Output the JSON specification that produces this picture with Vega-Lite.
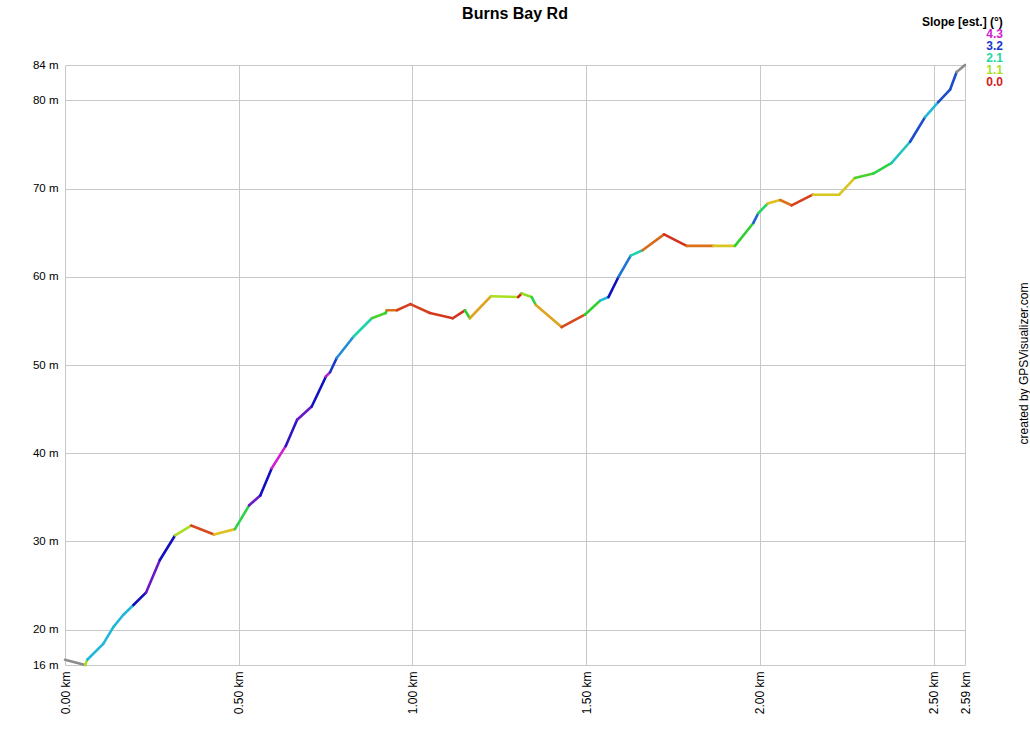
{
  "$schema": "https://vega.github.io/schema/vega-lite/v6.json",
  "autosize": "none",
  "width": 900,
  "height": 600,
  "padding": {"left": 65, "top": 65, "right": 65, "bottom": 65},
  "background": "#ffffff",
  "config": {
    "view": {"stroke": null},
    "font": "Liberation Sans"
  },
  "title": {
    "text": "Burns Bay Rd",
    "font": "Liberation Sans",
    "fontSize": 16,
    "fontWeight": "bold",
    "color": "#000000",
    "anchor": "middle",
    "baseline": "alphabetic",
    "offset": -18
  },
  "data": {
    "values": [
      {"d": 0.000, "e": 16.6, "d2": 0.058, "e2": 16.0, "s": 0, "g": 1},
      {"d": 0.058, "e": 16.0, "d2": 0.064, "e2": 16.6, "s": 1.1, "g": 0},
      {"d": 0.064, "e": 16.6, "d2": 0.110, "e2": 18.4, "s": 2.6, "g": 0},
      {"d": 0.110, "e": 18.4, "d2": 0.139, "e2": 20.3, "s": 2.6, "g": 0},
      {"d": 0.139, "e": 20.3, "d2": 0.168, "e2": 21.7, "s": 2.6, "g": 0},
      {"d": 0.168, "e": 21.7, "d2": 0.197, "e2": 22.8, "s": 2.6, "g": 0},
      {"d": 0.197, "e": 22.8, "d2": 0.233, "e2": 24.2, "s": 3.4, "g": 0},
      {"d": 0.233, "e": 24.2, "d2": 0.273, "e2": 27.9, "s": 3.9, "g": 0},
      {"d": 0.273, "e": 27.9, "d2": 0.317, "e2": 30.7, "s": 3.4, "g": 0},
      {"d": 0.317, "e": 30.7, "d2": 0.363, "e2": 31.8, "s": 1.1, "g": 0},
      {"d": 0.363, "e": 31.8, "d2": 0.429, "e2": 30.8, "s": 0.25, "g": 0},
      {"d": 0.429, "e": 30.8, "d2": 0.489, "e2": 31.4, "s": 0.8, "g": 0},
      {"d": 0.489, "e": 31.4, "d2": 0.530, "e2": 34.1, "s": 1.7, "g": 0},
      {"d": 0.530, "e": 34.1, "d2": 0.562, "e2": 35.2, "s": 3.9, "g": 0},
      {"d": 0.562, "e": 35.2, "d2": 0.595, "e2": 38.3, "s": 3.4, "g": 0},
      {"d": 0.595, "e": 38.3, "d2": 0.635, "e2": 40.8, "s": 4.3, "g": 0},
      {"d": 0.635, "e": 40.8, "d2": 0.668, "e2": 43.8, "s": 3.6, "g": 0},
      {"d": 0.668, "e": 43.8, "d2": 0.710, "e2": 45.3, "s": 3.9, "g": 0},
      {"d": 0.710, "e": 45.3, "d2": 0.751, "e2": 48.7, "s": 3.4, "g": 0},
      {"d": 0.751, "e": 48.7, "d2": 0.763, "e2": 49.2, "s": 4.2, "g": 0},
      {"d": 0.763, "e": 49.2, "d2": 0.782, "e2": 50.8, "s": 3.2, "g": 0},
      {"d": 0.782, "e": 50.8, "d2": 0.830, "e2": 53.2, "s": 2.8, "g": 0},
      {"d": 0.830, "e": 53.2, "d2": 0.883, "e2": 55.3, "s": 2.2, "g": 0},
      {"d": 0.883, "e": 55.3, "d2": 0.923, "e2": 55.9, "s": 1.5, "g": 0},
      {"d": 0.923, "e": 55.9, "d2": 0.926, "e2": 56.2, "s": 1.6, "g": 0},
      {"d": 0.926, "e": 56.2, "d2": 0.955, "e2": 56.2, "s": 0.5, "g": 0},
      {"d": 0.955, "e": 56.2, "d2": 0.994, "e2": 56.9, "s": 0.2, "g": 0},
      {"d": 0.994, "e": 56.9, "d2": 1.050, "e2": 55.9, "s": 0.2, "g": 0},
      {"d": 1.050, "e": 55.9, "d2": 1.116, "e2": 55.3, "s": 0.15, "g": 0},
      {"d": 1.116, "e": 55.3, "d2": 1.151, "e2": 56.2, "s": 0.1, "g": 0},
      {"d": 1.151, "e": 56.2, "d2": 1.165, "e2": 55.3, "s": 1.6, "g": 0},
      {"d": 1.165, "e": 55.3, "d2": 1.226, "e2": 57.8, "s": 0.7, "g": 0},
      {"d": 1.226, "e": 57.8, "d2": 1.304, "e2": 57.7, "s": 1.1, "g": 0},
      {"d": 1.304, "e": 57.7, "d2": 1.314, "e2": 58.1, "s": 0.0, "g": 0},
      {"d": 1.314, "e": 58.1, "d2": 1.343, "e2": 57.7, "s": 1.2, "g": 0},
      {"d": 1.343, "e": 57.7, "d2": 1.355, "e2": 56.8, "s": 1.7, "g": 0},
      {"d": 1.355, "e": 56.8, "d2": 1.429, "e2": 54.3, "s": 0.7, "g": 0},
      {"d": 1.429, "e": 54.3, "d2": 1.496, "e2": 55.7, "s": 0.25, "g": 0},
      {"d": 1.496, "e": 55.7, "d2": 1.540, "e2": 57.3, "s": 1.6, "g": 0},
      {"d": 1.540, "e": 57.3, "d2": 1.564, "e2": 57.7, "s": 2.6, "g": 0},
      {"d": 1.564, "e": 57.7, "d2": 1.593, "e2": 60.0, "s": 3.4, "g": 0},
      {"d": 1.593, "e": 60.0, "d2": 1.628, "e2": 62.4, "s": 2.9, "g": 0},
      {"d": 1.628, "e": 62.4, "d2": 1.662, "e2": 63.0, "s": 2.2, "g": 0},
      {"d": 1.662, "e": 63.0, "d2": 1.724, "e2": 64.8, "s": 0.45, "g": 0},
      {"d": 1.724, "e": 64.8, "d2": 1.789, "e2": 63.5, "s": 0.1, "g": 0},
      {"d": 1.789, "e": 63.5, "d2": 1.866, "e2": 63.5, "s": 0.5, "g": 0},
      {"d": 1.866, "e": 63.5, "d2": 1.928, "e2": 63.5, "s": 0.85, "g": 0},
      {"d": 1.928, "e": 63.5, "d2": 1.981, "e2": 66.1, "s": 1.6, "g": 0},
      {"d": 1.981, "e": 66.1, "d2": 1.995, "e2": 67.2, "s": 3.0, "g": 0},
      {"d": 1.995, "e": 67.2, "d2": 2.022, "e2": 68.3, "s": 1.8, "g": 0},
      {"d": 2.022, "e": 68.3, "d2": 2.058, "e2": 68.7, "s": 0.8, "g": 0},
      {"d": 2.058, "e": 68.7, "d2": 2.091, "e2": 68.1, "s": 0.5, "g": 0},
      {"d": 2.091, "e": 68.1, "d2": 2.152, "e2": 69.3, "s": 0.2, "g": 0},
      {"d": 2.152, "e": 69.3, "d2": 2.228, "e2": 69.3, "s": 0.85, "g": 0},
      {"d": 2.228, "e": 69.3, "d2": 2.273, "e2": 71.2, "s": 0.85, "g": 0},
      {"d": 2.273, "e": 71.2, "d2": 2.326, "e2": 71.7, "s": 1.5, "g": 0},
      {"d": 2.326, "e": 71.7, "d2": 2.379, "e2": 72.9, "s": 1.7, "g": 0},
      {"d": 2.379, "e": 72.9, "d2": 2.432, "e2": 75.3, "s": 2.4, "g": 0},
      {"d": 2.432, "e": 75.3, "d2": 2.475, "e2": 78.1, "s": 3.1, "g": 0},
      {"d": 2.475, "e": 78.1, "d2": 2.513, "e2": 79.8, "s": 2.6, "g": 0},
      {"d": 2.513, "e": 79.8, "d2": 2.547, "e2": 81.2, "s": 3.1, "g": 0},
      {"d": 2.547, "e": 81.2, "d2": 2.566, "e2": 83.2, "s": 3.1, "g": 0},
      {"d": 2.566, "e": 83.2, "d2": 2.590, "e2": 84.0, "s": 0, "g": 1}
    ]
  },
  "layer": [
    {
      "mark": {"type": "rule", "strokeWidth": 2.6, "strokeCap": "round"},
      "encoding": {
        "x": {
          "field": "d", "type": "quantitative",
          "scale": {"domain": [0, 2.59], "nice": false, "zero": false},
          "axis": {
            "title": null,
            "values": [0, 0.5, 1, 1.5, 2, 2.5, 2.59],
            "labelExpr": "format(datum.value, '.2f') + ' km'",
            "labelAngle": -90,
            "labelFont": "Liberation Sans",
            "labelFontSize": 12,
            "labelColor": "#000000",
            "labelPadding": 6,
            "ticks": false,
            "domain": false,
            "grid": true,
            "gridColor": "#c8c8c8",
            "gridWidth": 1
          }
        },
        "x2": {"field": "d2"},
        "y": {
          "field": "e", "type": "quantitative",
          "scale": {"domain": [16, 84], "nice": false, "zero": false},
          "axis": {
            "title": null,
            "orient": "left",
            "values": [16, 20, 30, 40, 50, 60, 70, 80, 84],
            "labelExpr": "datum.value + ' m'",
            "labelFont": "Liberation Sans",
            "labelFontSize": 11.5,
            "labelColor": "#000000",
            "labelPadding": 7,
            "ticks": false,
            "domain": false,
            "grid": true,
            "gridColor": "#c8c8c8",
            "gridWidth": 1
          }
        },
        "y2": {"field": "e2"},
        "color": {
          "condition": {"test": "datum.g == 1", "value": "#8c8c8c"},
          "field": "s",
          "type": "quantitative",
          "scale": {
            "type": "linear",
            "interpolate": "rgb",
            "domain": [0, 0.35, 0.55, 0.8, 1.1, 1.6, 2.1, 2.6, 3.0, 3.4, 3.9, 4.3],
            "range": ["#d42020", "#d65a1a", "#dc7a18", "#e0c020", "#a8e020", "#30d030", "#20d8a0", "#20b8d8", "#2060d0", "#1010c0", "#6818c8", "#d020d0"]
          },
          "legend": {
            "type": "symbol",
            "values": [4.3, 3.2, 2.1, 1.1, 0],
            "format": ".1f",
            "title": "Slope [est.] (°)",
            "orient": "none",
            "legendX": 857,
            "legendY": -48,
            "padding": 0,
            "titleFont": "Liberation Sans",
            "titleFontSize": 12,
            "titleFontWeight": "bold",
            "titleColor": "#000000",
            "titlePadding": -1,
            "labelFont": "Liberation Sans",
            "labelFontSize": 12,
            "labelFontWeight": "bold",
            "labelColor": {"expr": "scale('color', datum.value)"},
            "labelAlign": "right",
            "labelOffset": 69,
            "symbolSize": 0,
            "symbolOpacity": 0,
            "symbolStrokeWidth": 0,
            "rowPadding": 0
          }
        }
      }
    },
    {
      "mark": {"type": "rule", "opacity": 0},
      "encoding": {
        "y": {
          "field": "e", "type": "quantitative",
          "axis": {
            "orient": "right",
            "title": "created by GPSVisualizer.com",
            "titleFont": "Liberation Sans",
            "titleFontSize": 12,
            "titleFontWeight": "normal",
            "titleColor": "#000000",
            "titleAngle": -90,
            "titleAlign": "center",
            "titleBaseline": "middle",
            "titleX": 58,
            "titleY": 298,
            "labels": false,
            "ticks": false,
            "domain": false,
            "grid": false
          }
        }
      }
    }
  ],
  "resolve": {"axis": {"y": "independent"}}
}
